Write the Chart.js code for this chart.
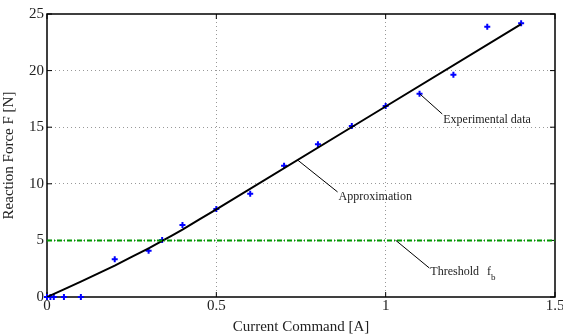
<!DOCTYPE html>
<html lang="en">
<head>
    <meta charset="UTF-8">
    <title>Reaction Force vs Current Command</title>
    <script src="https://cdn.jsdelivr.net/npm/chart.js"></script>
    <style>
        body {
            margin: 0;
            background-color: #fff;
        }
        .chart-box {
            width: 563px;
            height: 336px;
        }
    </style>
</head>
<body>
    <div class="chart-box">
        <canvas id="myChart"></canvas>
    </div>

    <script>
        // experimental measurements
        const expCurrent = [0, 0.01, 0.02, 0.05, 0.1, 0.2, 0.3, 0.34, 0.4, 0.5, 0.6, 0.7, 0.8, 0.9, 1.0, 1.1, 1.2, 1.3, 1.4];
        const expForce   = [0, 0, 0, 0, 0, 3.33, 4.09, 5.04, 6.36, 7.77, 9.13, 11.6, 13.49, 15.1, 16.87, 17.96, 19.64, 23.88, 24.18];

        // approximation curve
        const approxCurrent = [0, 0.1, 0.2, 0.3, 0.34, 0.4, 0.5, 1.4];
        const approxForce   = [0, 1.36, 2.78, 4.3, 4.95, 5.95, 7.75, 24.1];

        // threshold f_b
        const thresholdCurrent = [0, 1.5];
        const thresholdForce   = [5, 5];

        const xTicks = [0, 0.5, 1, 1.5];
        const yTicks = [0, 5, 10, 15, 20, 25];

        const serif = "'Liberation Serif', 'DejaVu Serif', serif";

        const toPoints = (xs, ys) => xs.map((v, i) => ({ x: v, y: ys[i] }));

        // 框線與向內刻度 (先畫，讓資料點蓋在上面)
        const matlabBox = {
            id: 'matlabBox',
            beforeDatasetsDraw(chart) {
                const { ctx, chartArea: a, scales: { x, y } } = chart;
                ctx.save();
                ctx.strokeStyle = '#000';
                ctx.lineWidth = 1.5;
                ctx.strokeRect(a.left, a.top, a.right - a.left, a.bottom - a.top);

                ctx.lineWidth = 1;
                ctx.beginPath();
                xTicks.forEach(t => {
                    const px = x.getPixelForValue(t);
                    ctx.moveTo(px, a.bottom); ctx.lineTo(px, a.bottom - 5);
                    ctx.moveTo(px, a.top); ctx.lineTo(px, a.top + 5);
                });
                yTicks.forEach(t => {
                    const py = y.getPixelForValue(t);
                    ctx.moveTo(a.left, py); ctx.lineTo(a.left + 5, py);
                    ctx.moveTo(a.right, py); ctx.lineTo(a.right - 5, py);
                });
                ctx.stroke();
                ctx.restore();
            }
        };

        // 註解
        const notesPlugin = {
            id: 'notesPlugin',
            afterDatasetsDraw(chart) {
                const { ctx, scales: { x, y } } = chart;
                const notes = [
                    { from: [0.74, 12.1], to: [0.858, 9.28], text: 'Approximation', dy: 5 },
                    { from: [1.1, 17.96], to: [1.167, 16.17], text: 'Experimental data', dy: 6 },
                    { from: [1.03, 5], to: [1.129, 2.56], text: 'Threshold', dy: 4, sub: true }
                ];
                ctx.save();
                ctx.strokeStyle = '#000';
                ctx.lineWidth = 1;
                ctx.font = '12px ' + serif;
                ctx.fillStyle = '#222';
                ctx.textBaseline = 'middle';
                notes.forEach(n => {
                    const x1 = x.getPixelForValue(n.from[0]), y1 = y.getPixelForValue(n.from[1]);
                    const x2 = x.getPixelForValue(n.to[0]), y2 = y.getPixelForValue(n.to[1]);
                    ctx.beginPath();
                    ctx.moveTo(x1, y1);
                    ctx.lineTo(x2, y2);
                    ctx.stroke();
                    ctx.fillText(n.text, x2 + 1, y2 + n.dy);
                    if (n.sub) {
                        const w = ctx.measureText(n.text).width;
                        ctx.fillText('f', x2 + w + 9, y2 + n.dy);
                        ctx.font = '9px ' + serif;
                        ctx.fillText('b', x2 + w + 13, y2 + n.dy + 6);
                    }
                });
                ctx.restore();
            }
        };

        const ctx = document.getElementById('myChart').getContext('2d');
        const myChart = new Chart(ctx, {
            type: 'scatter',
            data: {
                datasets: [
                    {
                        label: 'Threshold',
                        type: 'line',
                        data: toPoints(thresholdCurrent, thresholdForce),
                        borderColor: '#009a00',
                        borderWidth: 2,
                        borderDash: [5, 2, 1, 2],
                        pointRadius: 0,
                        fill: false
                    },
                    {
                        label: 'Approximation',
                        type: 'line',
                        data: toPoints(approxCurrent, approxForce),
                        borderColor: '#000',
                        borderWidth: 2,
                        pointRadius: 0,
                        tension: 0.1,
                        fill: false
                    },
                    {
                        label: 'Experimental data',
                        data: toPoints(expCurrent, expForce),
                        clip: false,
                        pointStyle: 'cross',
                        pointRadius: 3,
                        pointBorderWidth: 2,
                        borderColor: '#0000ff',
                        backgroundColor: '#0000ff'
                    }
                ]
            },
            options: {
                responsive: true,
                maintainAspectRatio: false,
                animation: false,
                layout: {
                    padding: { top: 14, right: 8, left: 0, bottom: 0 }
                },
                plugins: {
                    legend: { display: false },
                    tooltip: { enabled: false }
                },
                scales: {
                    x: {
                        type: 'linear',
                        min: 0,
                        max: 1.5,
                        afterBuildTicks: s => { s.ticks = xTicks.map(v => ({ value: v })); },
                        afterFit: s => { s.height = 39; s.paddingLeft = 0; s.paddingRight = 0; },
                        ticks: {
                            color: '#222',
                            font: { family: serif, size: 15 },
                            padding: 0,
                            maxRotation: 0,
                            callback: v => String(v)
                        },
                        grid: {
                            color: c => (c.tick.value === 0 || c.tick.value === 1.5) ? 'rgba(0,0,0,0)' : '#999',
                            lineWidth: 1,
                            drawTicks: false
                        },
                        border: { display: false, dash: [1, 3] },
                        title: {
                            display: true,
                            text: 'Current Command [A]',
                            color: '#222',
                            font: { family: serif, size: 15 },
                            padding: 0
                        }
                    },
                    y: {
                        min: 0,
                        max: 25,
                        afterBuildTicks: s => { s.ticks = yTicks.map(v => ({ value: v })); },
                        afterFit: s => { s.width = 47; },
                        ticks: {
                            color: '#222',
                            font: { family: serif, size: 15 },
                            padding: 3
                        },
                        grid: {
                            color: c => (c.tick.value === 0 || c.tick.value === 25) ? 'rgba(0,0,0,0)' : '#999',
                            lineWidth: 1,
                            drawTicks: false
                        },
                        border: { display: false, dash: [1, 3] },
                        title: {
                            display: true,
                            text: 'Reaction Force F [N]',
                            color: '#222',
                            font: { family: serif, size: 15 },
                            padding: 0
                        }
                    }
                }
            },
            plugins: [matlabBox, notesPlugin]
        });
    </script>
</body>
</html>
